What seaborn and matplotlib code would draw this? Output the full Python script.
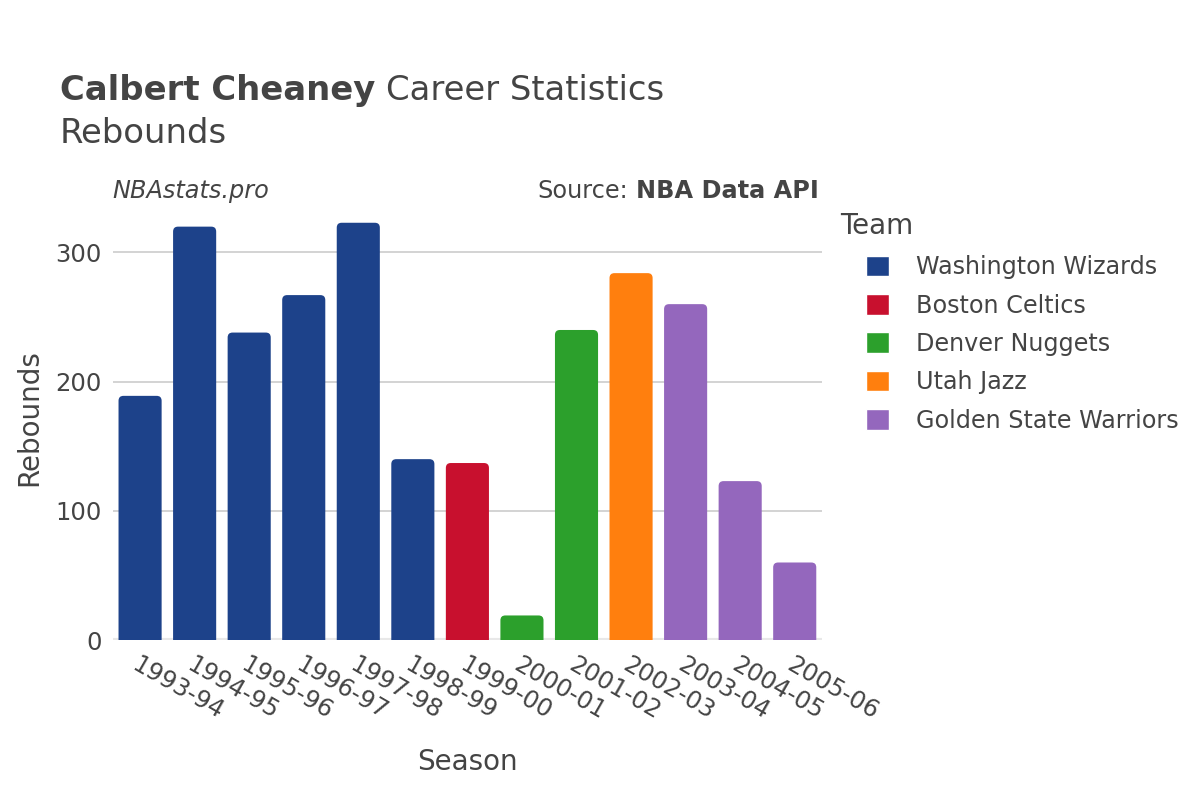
import matplotlib
matplotlib.use("Agg")
import matplotlib.pyplot as plt
from matplotlib.patches import FancyBboxPatch
import seaborn as sns
import pandas as pd

# data
seasons = ["1993-94", "1994-95", "1995-96", "1996-97", "1997-98", "1998-99", "1999-00",
           "2000-01", "2001-02", "2002-03", "2003-04", "2004-05", "2005-06"]
rebounds = [189, 320, 238, 267, 323, 140, 137, 19, 240, 284, 260, 123, 60]
teams = ["Washington Wizards"] * 6 + ["Boston Celtics"] + ["Denver Nuggets"] * 2 + \
        ["Utah Jazz"] + ["Golden State Warriors"] * 3
team_order = ["Washington Wizards", "Boston Celtics", "Denver Nuggets", "Utah Jazz",
              "Golden State Warriors"]
team_colors = ["#1d428a", "#c8102e", "#2ca02c", "#ff7f0e", "#9467bd"]

df = pd.DataFrame({"Season": seasons, "Rebounds": rebounds, "Team": teams})

sns.set_theme(style="white")
plt.rcParams["font.family"] = ["DejaVu Sans"]
text_color = "#444444"

fig = plt.figure(figsize=(12, 8), dpi=100)
ax = fig.add_axes([0.094, 0.2, 0.591, 0.549])

sns.barplot(data=df, x="Season", y="Rebounds", hue="Team", hue_order=team_order,
            palette=team_colors, saturation=1, dodge=False, width=0.79, ax=ax, zorder=3)

ax.set_xlim(-0.5, len(seasons) - 0.5)
ax.set_ylim(0, 340)

# swap plain rectangles for rounded-top bars
aspect = (340 / (0.549 * 800)) / (len(seasons) / (0.591 * 1200))
for p in list(ax.patches):
    if p.get_height() <= 0 or p.get_width() <= 0:
        continue
    x, w, h = p.get_x(), p.get_width(), p.get_height()
    r = 0.09
    fb = FancyBboxPatch((x, -r * aspect), w, h + r * aspect,
                        boxstyle=f"round,pad=0,rounding_size={r}",
                        mutation_aspect=aspect, facecolor=p.get_facecolor(),
                        edgecolor="none", zorder=3)
    ax.add_patch(fb)
    p.set_visible(False)

ax.yaxis.grid(True, color="#cccccc", linewidth=1.2, zorder=0)
ax.axhline(0, color="#e8e8e8", linewidth=3, zorder=2)
ax.set_yticks([0, 100, 200, 300])
for s in ax.spines.values():
    s.set_visible(False)
ax.tick_params(axis="both", length=0, labelsize=17.5, labelcolor=text_color)
ax.tick_params(axis="y", pad=8)
plt.setp(ax.get_xticklabels(), rotation=-30, ha="left", va="top", rotation_mode="anchor")
ax.tick_params(axis="x", pad=9)

ax.set_xlabel("Season", fontsize=20, color=text_color)
ax.set_ylabel("Rebounds", fontsize=20, color=text_color)
ax.xaxis.set_label_coords(0.5, -0.245)
ax.yaxis.set_label_coords(-0.098, 0.506)

# legend without title; the title is placed on its own
sns.move_legend(ax, "upper left", bbox_to_anchor=(866 / 1200, 0.681),
                bbox_transform=fig.transFigure, frameon=False, title=None,
                fontsize=17.2, handlelength=0.95, handleheight=0.95,
                labelspacing=0.6, handletextpad=1.15, borderaxespad=0, borderpad=0)
leg = ax.get_legend()
for t in leg.get_texts():
    t.set_color(text_color)
fig.text(840 / 1200, 1 - 226 / 800, "Team", fontsize=20, color=text_color, va="center")

# title with bold name part
renderer = fig.canvas.get_renderer()
t1 = fig.text(0.05, 0.8745, "Calbert Cheaney", fontsize=24.4, fontweight="bold",
              color=text_color, va="baseline")
bb = t1.get_window_extent(renderer)
fig.text(bb.x1 / 1200 + 0.009, 0.8745, "Career Statistics", fontsize=24.4,
         color=text_color, va="baseline")
fig.text(0.05, 0.821, "Rebounds", fontsize=24.4, color=text_color, va="baseline")

fig.text(0.094, 0.7525, "NBAstats.pro", fontsize=17.3, style="italic",
         color=text_color, va="baseline")
s2 = fig.text(0.682, 0.7525, "NBA Data API", fontsize=17.3, fontweight="bold",
              color=text_color, va="baseline", ha="right")
bb2 = s2.get_window_extent(renderer)
fig.text(bb2.x0 / 1200 - 0.006, 0.7525, "Source:", fontsize=17.3,
         color=text_color, va="baseline", ha="right")

fig.savefig("out.png", dpi=100, facecolor="white")
